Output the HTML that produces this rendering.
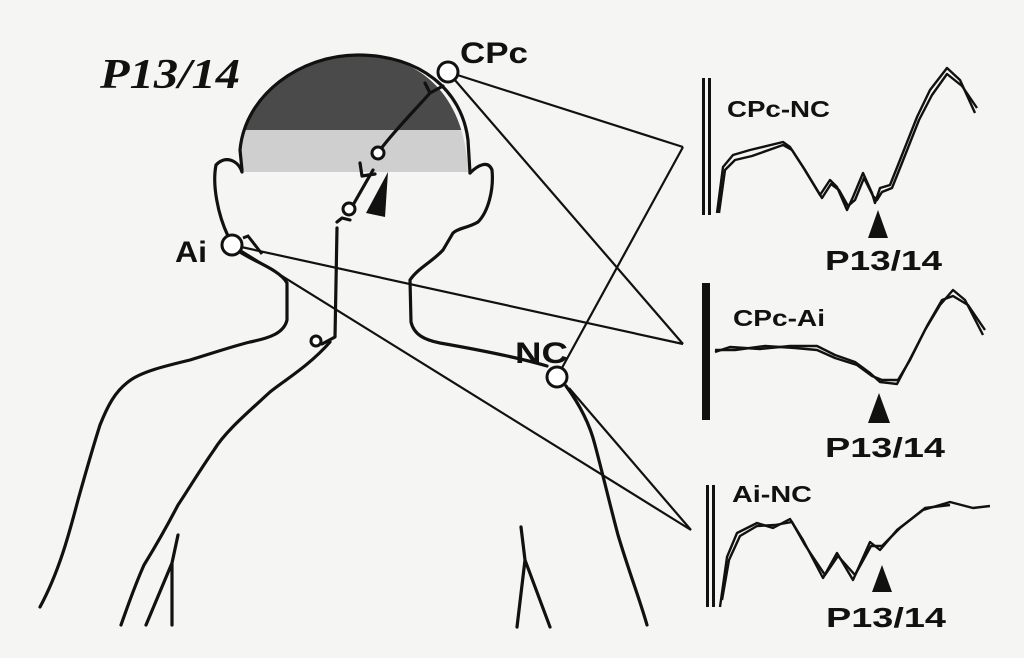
<!DOCTYPE html>
<html><head><meta charset="utf-8"><style>
html,body{margin:0;padding:0;background:#f5f5f3;}
svg{display:block}
text{font-family:"Liberation Sans",sans-serif;font-weight:bold;fill:#111}
</style></head><body>
<svg width="1024" height="658" viewBox="0 0 1024 658" xmlns="http://www.w3.org/2000/svg">
<rect width="1024" height="658" fill="#f5f5f3"/>
<defs><clipPath id="hc"><path d="M240,172 L240,150 C245,95 300,55 358,55 C420,55 465,95 468,172 Z"/></clipPath></defs>
<g clip-path="url(#hc)">
<rect x="230" y="50" width="250" height="80" fill="#4a4a4a"/>
<rect x="230" y="130" width="250" height="42" fill="#cfcfcf"/>
</g>
<g fill="none" stroke="#111" stroke-width="3.2" stroke-linejoin="round" stroke-linecap="round">
<path d="M242,170 L240,150 C245,95 300,55 358,55 C420,55 462,90 468,140 L470,173"/>
<path d="M242,172 C238,160 225,155 216,165 C212,185 218,215 228,236"/>
<path d="M470,173 C478,165 488,160 492,170 C494,190 488,212 478,222 C468,228 458,228 453,233 L443,250 C432,262 418,268 410,280 L411,322 C414,335 425,340 440,343 C480,350 520,358 547,366"/>
<path d="M240,252 C255,262 280,270 287,283 L287,320 C284,333 270,338 250,342 C230,347 210,354 190,360 C165,366 140,372 128,382 C115,392 108,405 100,425 C92,450 85,475 78,500 C70,530 60,570 40,607"/>
<path d="M330,342 C310,365 285,380 270,392 C245,415 225,432 214,450 C200,470 188,490 178,505 C165,530 152,552 144,565 C135,585 128,605 121,625"/>
<path d="M566,386 C580,405 590,425 595,445 C603,475 610,505 618,535 C630,575 640,600 647,625"/>
<path d="M178,535 L172,563 L172,625 M172,563 L146,625"/>
<path d="M521,527 L525,560 L517,627 M525,560 L550,627"/>
<path d="M337,228 L335,337 L322,344"/>
<path d="M337,222 L342,218 L350,220"/>
<path d="M353,205 L373,170"/>
<path d="M360,163 L362,176 L375,174"/>
<path d="M380,150 C395,130 415,110 430,93 L443,86 M430,93 L425,83"/>
</g>
<g fill="none" stroke="#111" stroke-width="2.2">
<line x1="448" y1="72" x2="683" y2="147"/>
<line x1="448" y1="72" x2="683" y2="344"/>
<line x1="683" y1="147" x2="557" y2="377"/>
<line x1="232" y1="245" x2="683" y2="344"/>
<line x1="232" y1="245" x2="691" y2="530"/>
<line x1="569" y1="388" x2="691" y2="530"/>
<path d="M243,238 L248,236 L262,254" stroke-width="3"/>
</g>
<g fill="#fff" stroke="#111" stroke-width="3">
<circle cx="448" cy="72" r="10"/>
<circle cx="232" cy="245" r="10"/>
<circle cx="557" cy="377" r="10"/>
<circle cx="378" cy="153" r="6"/>
<circle cx="349" cy="209" r="6"/>
<circle cx="316" cy="341" r="5"/>
</g>
<polygon points="388,172 366,213 385,217" fill="#111"/>
<text x="100" y="88" font-style="italic" font-size="42" textLength="140" lengthAdjust="spacingAndGlyphs" style="font-family:'Liberation Serif',serif">P13/14</text>
<text x="460" y="63" font-size="30" textLength="68" lengthAdjust="spacingAndGlyphs">CPc</text>
<text x="175" y="262" font-size="30" textLength="32" lengthAdjust="spacingAndGlyphs">Ai</text>
<text x="515" y="363" font-size="30" textLength="53" lengthAdjust="spacingAndGlyphs">NC</text>
<g fill="#111">
<rect x="702" y="78" width="3" height="137"/><rect x="708" y="78" width="3" height="137"/>
<rect x="702" y="283" width="8" height="137"/>
<rect x="706" y="485" width="3" height="122"/><rect x="712" y="485" width="3" height="122"/>
<polygon points="878,210 868,238 888,238"/>
<polygon points="879,393 868,423 890,423"/>
<polygon points="882,565 872,592 892,592"/>
</g>
<text x="727" y="117" font-size="23" textLength="103" lengthAdjust="spacingAndGlyphs">CPc-NC</text>
<text x="733" y="326" font-size="23" textLength="92" lengthAdjust="spacingAndGlyphs">CPc-Ai</text>
<text x="732" y="502" font-size="23" textLength="80" lengthAdjust="spacingAndGlyphs">Ai-NC</text>
<text x="825" y="270" font-size="28" textLength="117" lengthAdjust="spacingAndGlyphs">P13/14</text>
<text x="825" y="457" font-size="28" textLength="120" lengthAdjust="spacingAndGlyphs">P13/14</text>
<text x="826" y="627" font-size="28" textLength="120" lengthAdjust="spacingAndGlyphs">P13/14</text>
<g fill="none" stroke="#111" stroke-width="2.4" stroke-linejoin="round">
<path d="M717,213 L723,167 L733,155 L750,150 L783,142 L790,147 L803,167 L820,195 L830,180 L837,187 L847,210 L853,197 L863,173 L872,193 L875,203 L880,188 L890,185 L900,160 L917,117 L930,90 L947,68 L960,80 L975,113"/>
<path d="M719,213 L725,170 L735,160 L752,156 L783,145 L792,150 L805,170 L822,198 L831,184 L839,190 L848,206 L855,200 L864,178 L873,196 L877,200 L882,192 L892,188 L902,163 L919,120 L932,95 L947,74 L962,86 L977,108"/>
<path d="M715,352 L730,347 L760,349 L790,346 L817,346 L835,355 L855,362 L870,373 L880,382 L897,384 L908,363 L925,330 L940,305 L953,290 L965,300 L983,335"/>
<path d="M715,350 L735,350 L765,346 L795,348 L817,350 L835,358 L857,365 L872,376 L882,380 L898,380 L910,360 L927,326 L942,300 L953,296 L968,305 L985,330"/>
<path d="M720,607 L727,557 L737,533 L757,523 L773,528 L790,519 L803,540 L823,578 L837,553 L853,580 L870,542 L880,550 L897,530 L923,510 L950,502 L973,508 L990,506"/>
<path d="M722,600 L729,560 L740,536 L757,526 L775,525 L792,522 L805,545 L825,575 L838,556 L855,575 L871,546 L882,546 L900,528 L925,508 L950,505"/>
</g>
</svg>
</body></html>
